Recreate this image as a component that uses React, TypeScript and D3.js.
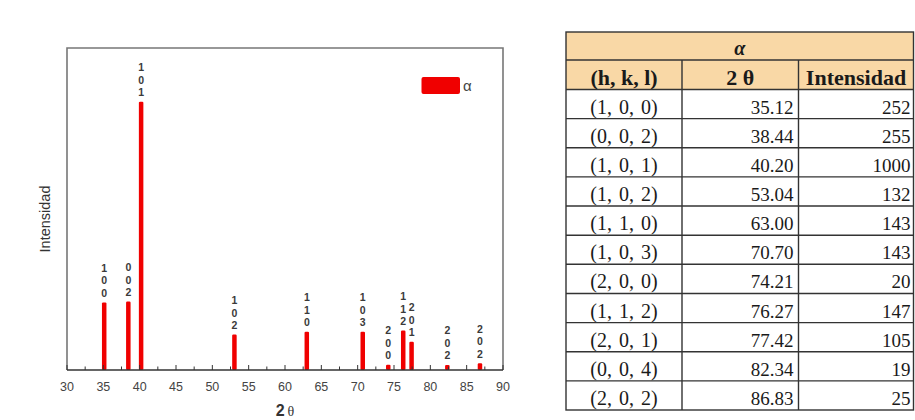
import React from "react";
import * as d3 from "d3";

// peaks as drawn in the chart
const peakAngles = [35.12, 38.44, 40.2, 53.04, 63.0, 70.7, 74.21, 76.27, 77.42, 82.34, 86.83];
const peakIntensities = [252, 255, 1000, 132, 143, 143, 20, 147, 105, 19, 25];
const peakLabels = ["100", "002", "101", "102", "110", "103", "200", "112", "201", "202", "202"];

// table columns
const tableTitle = "α";
const tableHeaders = ["(h, k, l)", "2 θ", "Intensidad"];
const tableHkl = [
  "(1, 0, 0)", "(0, 0, 2)", "(1, 0, 1)", "(1, 0, 2)", "(1, 1, 0)", "(1, 0, 3)",
  "(2, 0, 0)", "(1, 1, 2)", "(2, 0, 1)", "(0, 0, 4)", "(2, 0, 2)",
];
const tableAngles = ["35.12", "38.44", "40.20", "53.04", "63.00", "70.70", "74.21", "76.27", "77.42", "82.34", "86.83"];
const tableIntensities = ["252", "255", "1000", "132", "143", "143", "20", "147", "105", "19", "25"];

const xTicks = [30, 35, 40, 45, 50, 55, 60, 65, 70, 75, 80, 85, 90];

const RED = "#f00000";
const SANS = "Arial, 'Liberation Sans', sans-serif";
const SERIF = "'Times New Roman', 'Liberation Serif', serif";

export default function App() {
  const plot = { left: 67, top: 48, right: 503, bottom: 370 };

  const x = d3.scaleLinear().domain([30, 90]).range([plot.left, plot.right]);
  const y = d3.scaleLinear().domain([0, 1200]).range([plot.bottom, plot.top]);
  const minorTicks = d3.range(30, 90.01, 2.5).filter((v) => v % 5 !== 0);

  // table layout
  const tbl = { left: 566, right: 913.5, top: 32, head1: 60, head2: 89.5, bottom: 410 };
  const colX = [tbl.left, 682, 798.5, tbl.right];
  const rowY = d3.scaleLinear().domain([0, tableHkl.length]).range([tbl.head2, tbl.bottom]);
  const barW = 4.5;

  return (
    <svg width={915} height={420} style={{ position: "absolute", left: 0, top: 0, background: "#fff" }}>
      {/* frame */}
      <path
        d={`M${plot.left},${plot.bottom} V${plot.top} H${plot.right} V${plot.bottom}`}
        fill="none"
        stroke="#777"
        strokeWidth={1.6}
      />

      {/* bars */}
      {peakAngles.map((a, i) => (
        <rect
          key={"b" + i}
          x={x(a) - barW / 2}
          y={y(peakIntensities[i])}
          width={barW}
          height={plot.bottom - y(peakIntensities[i])}
          rx={1.2}
          fill={RED}
        />
      ))}

      {/* peak labels, digits stacked vertically */}
      {peakAngles.map((a, i) => {
        const digits = peakLabels[i].split("");
        const base = y(peakIntensities[i]) - 5.5;
        return (
          <g key={"l" + i} fontFamily={SANS} fontSize={10.5} fontWeight={600} fill="#3a3a3a" textAnchor="middle">
            {digits.map((d, j) => (
              <text key={j} x={x(a)} y={base - (digits.length - 1 - j) * 12.5}>
                {d}
              </text>
            ))}
          </g>
        );
      })}

      {/* x axis */}
      <line x1={plot.left} x2={plot.right} y1={plot.bottom} y2={plot.bottom} stroke="#333" strokeWidth={1.3} />
      {xTicks.map((t) => (
        <g key={"t" + t}>
          <line x1={x(t)} x2={x(t)} y1={plot.bottom} y2={plot.bottom - 5} stroke="#333" strokeWidth={1} />
          <text x={x(t)} y={plot.bottom + 21} fontFamily={SANS} fontSize={12.5} fill="#444" textAnchor="middle">
            {t}
          </text>
        </g>
      ))}
      {minorTicks.map((t) => (
        <line key={"m" + t} x1={x(t)} x2={x(t)} y1={plot.bottom} y2={plot.bottom - 3.5} stroke="#333" strokeWidth={1} />
      ))}

      {/* axis titles */}
      <text
        transform={`translate(50,${(plot.top + plot.bottom) / 2 + 10}) rotate(-90)`}
        fontFamily={SANS}
        fontSize={14.5}
        fill="#333"
        textAnchor="middle"
      >
        Intensidad
      </text>
      <text x={(plot.left + plot.right) / 2} y={416} textAnchor="middle" fill="#333">
        <tspan fontFamily={SANS} fontSize={16} fontWeight="bold">2</tspan>
        <tspan fontFamily={SERIF} fontSize={14} dx={3}>θ</tspan>
      </text>

      {/* legend */}
      <rect x={421.5} y={77} width={38.5} height={17} rx={2} fill={RED} />
      <text x={463} y={91} fontFamily={SANS} fontSize={15} fill="#444">α</text>

      {/* table */}
      <rect x={tbl.left} y={tbl.top} width={tbl.right - tbl.left} height={tbl.head2 - tbl.top} fill="#f9d8a6" />
      <g fontFamily={SERIF} fill="#1a1a1a">
        <text x={(tbl.left + tbl.right) / 2} y={55} fontSize={20} fontWeight="bold" fontStyle="italic" textAnchor="middle">
          {tableTitle}
        </text>
        {tableHeaders.map((h, c) => (
          <text
            key={"h" + c}
            x={(colX[c] + colX[c + 1]) / 2}
            y={tbl.head2 - 5}
            fontSize={22}
            fontWeight="bold"
            textAnchor="middle"
          >
            {h}
          </text>
        ))}
        {tableHkl.map((h, r) => (
          <g key={"r" + r} fontSize={20}>
            <text x={(colX[0] + colX[1]) / 2} y={rowY(r + 1) - 5} textAnchor="middle" wordSpacing={2}>
              {h}
            </text>
            <text x={colX[2] - 5} y={rowY(r + 1) - 5} textAnchor="end" fontSize={19}>
              {tableAngles[r]}
            </text>
            <text x={colX[3] - 3} y={rowY(r + 1) - 5} textAnchor="end" fontSize={19}>
              {tableIntensities[r]}
            </text>
          </g>
        ))}
      </g>
      <g stroke="#333" strokeWidth={1.4} fill="none">
        <rect x={tbl.left} y={tbl.top} width={tbl.right - tbl.left} height={tbl.bottom - tbl.top} />
        <line x1={tbl.left} x2={tbl.right} y1={tbl.head1} y2={tbl.head1} />
        {d3.range(0, tableHkl.length).map((r) => (
          <line key={"rl" + r} x1={tbl.left} x2={tbl.right} y1={rowY(r)} y2={rowY(r)} />
        ))}
        {[colX[1], colX[2]].map((cx, i) => (
          <line key={"cl" + i} x1={cx} x2={cx} y1={tbl.head1} y2={tbl.bottom} />
        ))}
      </g>
    </svg>
  );
}
